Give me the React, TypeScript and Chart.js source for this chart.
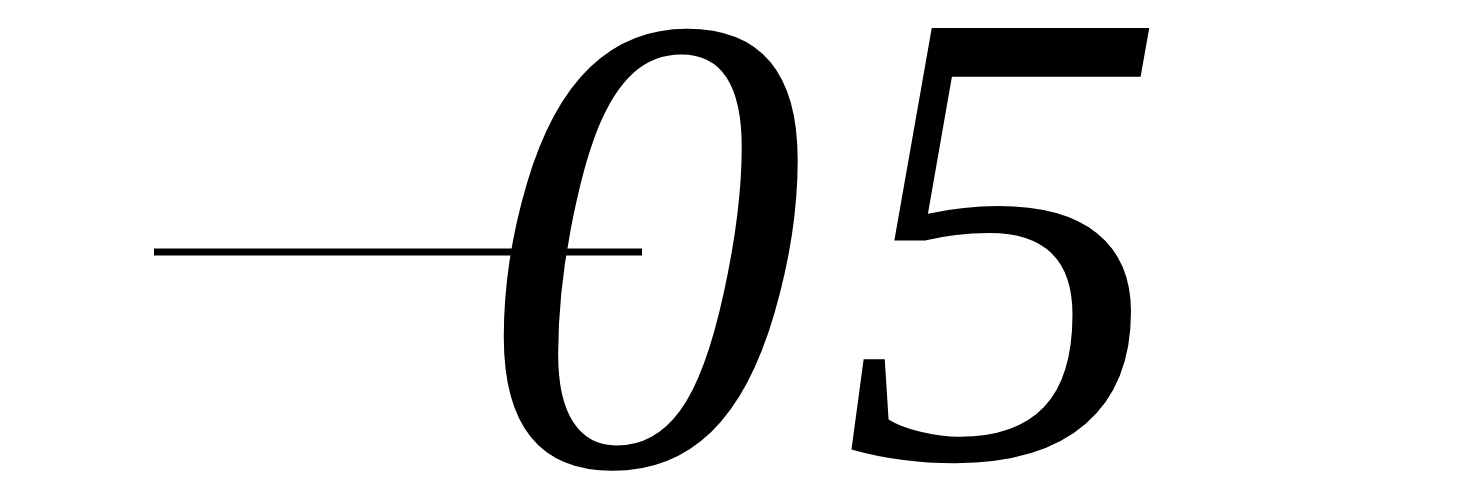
import { useEffect, useRef } from "react"
import { Chart, registerables } from "chart.js"

Chart.register(...registerables)

// the long horizontal stroke, in axis units (1 unit = 100px)
const strokeX = [1.54, 6.42]
const strokeY = [0, 0]

// the two italic digits, placed by the centre of their ink
const digitText = ["0", "5"]
const digitX = [6.525, 10.05]
const digitY = [0.025, 0.05]

const xRange = [0, 14.63]
const yRange = [-2.48, 2.52]

const digitPlugin = {
  id: "digits",
  afterDatasetsDraw(chart: any) {
    const { ctx, scales } = chart
    ctx.save()
    ctx.font = "italic 655px 'Liberation Serif', 'Times New Roman', serif"
    ctx.fillStyle = "#000000"
    ctx.textAlign = "left"
    ctx.textBaseline = "alphabetic"
    digitText.forEach((t, i) => {
      const m = ctx.measureText(t)
      const cx = scales.x.getPixelForValue(digitX[i])
      const cy = scales.y.getPixelForValue(digitY[i])
      const w = m.actualBoundingBoxLeft + m.actualBoundingBoxRight
      const h = m.actualBoundingBoxAscent + m.actualBoundingBoxDescent
      ctx.fillText(t, cx - w / 2 + m.actualBoundingBoxLeft, cy + h / 2 - m.actualBoundingBoxDescent)
    })
    ctx.restore()
  },
}

export default function App() {
  const chartRef = useRef<HTMLCanvasElement>(null)
  const chartInstance = useRef<Chart | null>(null)

  useEffect(() => {
    if (!chartRef.current) return
    const ctx = chartRef.current.getContext("2d")
    if (!ctx) return

    if (chartInstance.current) {
      chartInstance.current.destroy()
    }

    chartInstance.current = new Chart(ctx, {
      type: "line",
      data: {
        datasets: [
          {
            data: strokeX.map((x, i) => ({ x, y: strokeY[i] })),
            borderColor: "#000000",
            borderWidth: 7,
            borderCapStyle: "butt",
            pointRadius: 0,
            tension: 0,
            fill: false,
          },
        ],
      },
      options: {
        animation: false,
        responsive: true,
        maintainAspectRatio: false,
        layout: { padding: 0 },
        plugins: {
          legend: { display: false },
          tooltip: { enabled: false },
        },
        scales: {
          x: { type: "linear", display: false, min: xRange[0], max: xRange[1] },
          y: { type: "linear", display: false, min: yRange[0], max: yRange[1] },
        },
      },
      plugins: [digitPlugin],
    })

    return () => {
      if (chartInstance.current) {
        chartInstance.current.destroy()
        chartInstance.current = null
      }
    }
  }, [])

  return (
    <div style={{ position: "fixed", left: 0, top: 0, width: "1463px", height: "500px", background: "#ffffff" }}>
      <canvas ref={chartRef} />
    </div>
  )
}
